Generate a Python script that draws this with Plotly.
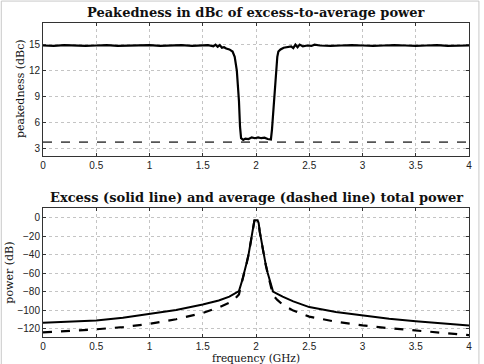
import plotly.graph_objects as go

# ---- data ----
freq_top = [0.0, 0.1, 0.2, 0.3, 0.4, 0.5, 0.6, 0.7, 0.8, 0.9, 1.0, 1.1, 1.2, 1.3, 1.4, 1.5,
            1.55, 1.6, 1.62, 1.64, 1.66, 1.68, 1.7, 1.72, 1.75, 1.78, 1.8, 1.82, 1.84, 1.85,
            1.86, 1.88, 1.9, 1.93, 1.96, 1.99, 2.02, 2.05, 2.08, 2.11, 2.14, 2.15, 2.16,
            2.17, 2.185, 2.2, 2.21, 2.23, 2.26, 2.3, 2.33, 2.35, 2.37, 2.39, 2.41, 2.44,
            2.48, 2.52, 2.55, 2.6, 2.7, 2.8, 2.9, 3.0, 3.1, 3.2, 3.3, 3.4, 3.5, 3.6, 3.7,
            3.8, 3.9, 4.0]
peakedness = [14.9, 14.85, 14.95, 14.9, 14.85, 14.9, 14.95, 14.85, 14.9, 14.9, 14.95, 14.85,
              14.9, 14.95, 14.85, 14.9,
              14.95, 14.8, 15.0, 14.75, 14.95, 14.65, 14.7, 14.55, 14.45, 14.2, 13.6, 12.0,
              8.5, 5.5, 4.2, 4.0, 4.15, 4.1, 4.3, 4.2, 4.3, 4.2, 4.25, 4.1, 4.05, 5.2, 7.0,
              9.0, 12.0, 13.6, 14.2, 14.45, 14.65, 14.75, 14.8, 14.6, 15.0, 14.7, 15.0,
              14.8, 14.9, 14.85, 15.0, 14.9, 14.85, 14.9, 14.95, 14.9, 14.85, 14.9, 14.95,
              14.9, 14.85, 14.9, 14.95, 14.85, 14.9, 14.9]
avg_peakedness_level = 3.75

freq_pow = [0.0, 0.25, 0.5, 0.75, 1.0, 1.25, 1.5, 1.65, 1.75, 1.8, 1.84, 1.87, 1.89, 1.91,
            1.93, 1.95, 1.965, 1.975, 1.985, 2.015, 2.025, 2.035, 2.05, 2.07, 2.09, 2.11,
            2.13, 2.16, 2.2, 2.25, 2.35, 2.5, 2.75, 3.0, 3.25, 3.5, 3.75, 4.0]
excess_power = [-113.7, -112.8, -111.3, -108.3, -104.3, -99.8, -94.0, -89.5, -85.5, -82.5,
                -79.5, -68.0, -60.0, -50.0, -40.0, -25.0, -15.0, -6.0, -3.0, -3.0, -6.0,
                -15.0, -25.0, -40.0, -50.0, -60.0, -68.0, -80.0, -82.5, -85.5, -90.5, -96.7,
                -102.0, -106.0, -109.3, -112.0, -114.5, -116.5]
average_power = [-124.0, -122.7, -120.7, -118.3, -114.8, -109.8, -103.0, -97.0, -92.0, -88.0,
                 -83.0, -68.5, -60.5, -50.5, -40.5, -25.5, -15.5, -6.5, -3.5, -3.5, -6.5,
                 -15.5, -25.5, -40.5, -50.5, -60.5, -69.0, -84.0, -89.0, -94.0, -100.5,
                 -107.0, -112.5, -116.5, -119.5, -121.7, -124.5, -127.0]

x_ticks = [0, 0.5, 1, 1.5, 2, 2.5, 3, 3.5, 4]
top_y_ticks = [3, 6, 9, 12, 15]
bot_y_ticks = [0, -20, -40, -60, -80, -100, -120]

# ---- figure ----
fig = go.Figure()
fig.add_trace(go.Scatter(x=freq_top, y=peakedness, mode="lines",
                         line=dict(color="black", width=2.2), xaxis="x", yaxis="y"))
fig.add_trace(go.Scatter(x=[0, 4], y=[avg_peakedness_level] * 2, mode="lines",
                         line=dict(color="#555555", width=1.6, dash="dash"),
                         xaxis="x", yaxis="y"))
fig.add_trace(go.Scatter(x=freq_pow, y=excess_power, mode="lines",
                         line=dict(color="black", width=2), xaxis="x2", yaxis="y2"))
fig.add_trace(go.Scatter(x=freq_pow, y=average_power, mode="lines",
                         line=dict(color="black", width=2.2, dash="dash"),
                         xaxis="x2", yaxis="y2"))

tickfont = dict(family="Liberation Sans, Arial", size=10, color="#222")
axis_common = dict(showline=True, linecolor="#333", linewidth=1, mirror="ticks",
                   ticks="inside", ticklen=3, tickcolor="#333",
                   showgrid=True, gridcolor="#c4c4c4", griddash="dot", gridwidth=1,
                   zeroline=False, tickfont=tickfont)

fig.update_layout(
    width=484, height=364,
    margin=dict(l=43, r=12, t=23, b=26),
    paper_bgcolor="white", plot_bgcolor="white",
    showlegend=False,
    xaxis=dict(domain=[0, 1], range=[0, 4], tickvals=x_ticks,
               ticktext=[str(v) for v in x_ticks], anchor="y", **axis_common),
    yaxis=dict(domain=[0.578, 1], range=[2.2, 17.5], tickvals=top_y_ticks,
               anchor="x", **axis_common),
    xaxis2=dict(domain=[0, 1], range=[0, 4], tickvals=x_ticks,
                ticktext=[str(v) for v in x_ticks], anchor="y2", **axis_common),
    yaxis2=dict(domain=[0, 0.41], range=[-129, 10], tickvals=bot_y_ticks,
                ticktext=["0", "\u221220", "\u221240", "\u221260", "\u221280",
                          "\u2212100", "\u2212120"],
                anchor="x2", **axis_common),
)

title_font = dict(family="DejaVu Serif, serif", size=13, color="#111")
label_font = dict(family="DejaVu Serif, serif", size=11, color="#111")
fig.add_annotation(text="<b>Peakedness in dBc of excess-to-average power</b>",
                   xref="paper", yref="paper", x=0.5, y=1.0, yshift=11,
                   showarrow=False, font=title_font, xanchor="center", yanchor="middle")
fig.add_annotation(text="<b>Excess (solid line) and average (dashed line) total power</b>",
                   xref="paper", yref="paper", x=0.5, y=0.41, yshift=11,
                   showarrow=False, font=title_font, xanchor="center", yanchor="middle")
fig.add_annotation(text="peakedness (dBc)", textangle=-90,
                   xref="paper", yref="paper", x=0, xshift=-22, y=0.79,
                   showarrow=False, font=label_font, xanchor="center", yanchor="middle")
fig.add_annotation(text="power (dB)", textangle=-90,
                   xref="paper", yref="paper", x=0, xshift=-33, y=0.205,
                   showarrow=False, font=label_font, xanchor="center", yanchor="middle")
fig.add_annotation(text="frequency (GHz)",
                   xref="paper", yref="paper", x=0.5, y=0, yshift=-13,
                   showarrow=False, font=dict(family="DejaVu Serif, serif", size=10.5,
                                              color="#111"),
                   xanchor="center", yanchor="top")

# light figure border
fig.add_shape(type="rect", xref="paper", yref="paper",
              x0=-42 / 429, x1=1 + 10 / 429, y0=-0.1, y1=1 + 22 / 315,
              line=dict(color="#c8c8c8", width=1), layer="below")

fig.write_html("out.html")
